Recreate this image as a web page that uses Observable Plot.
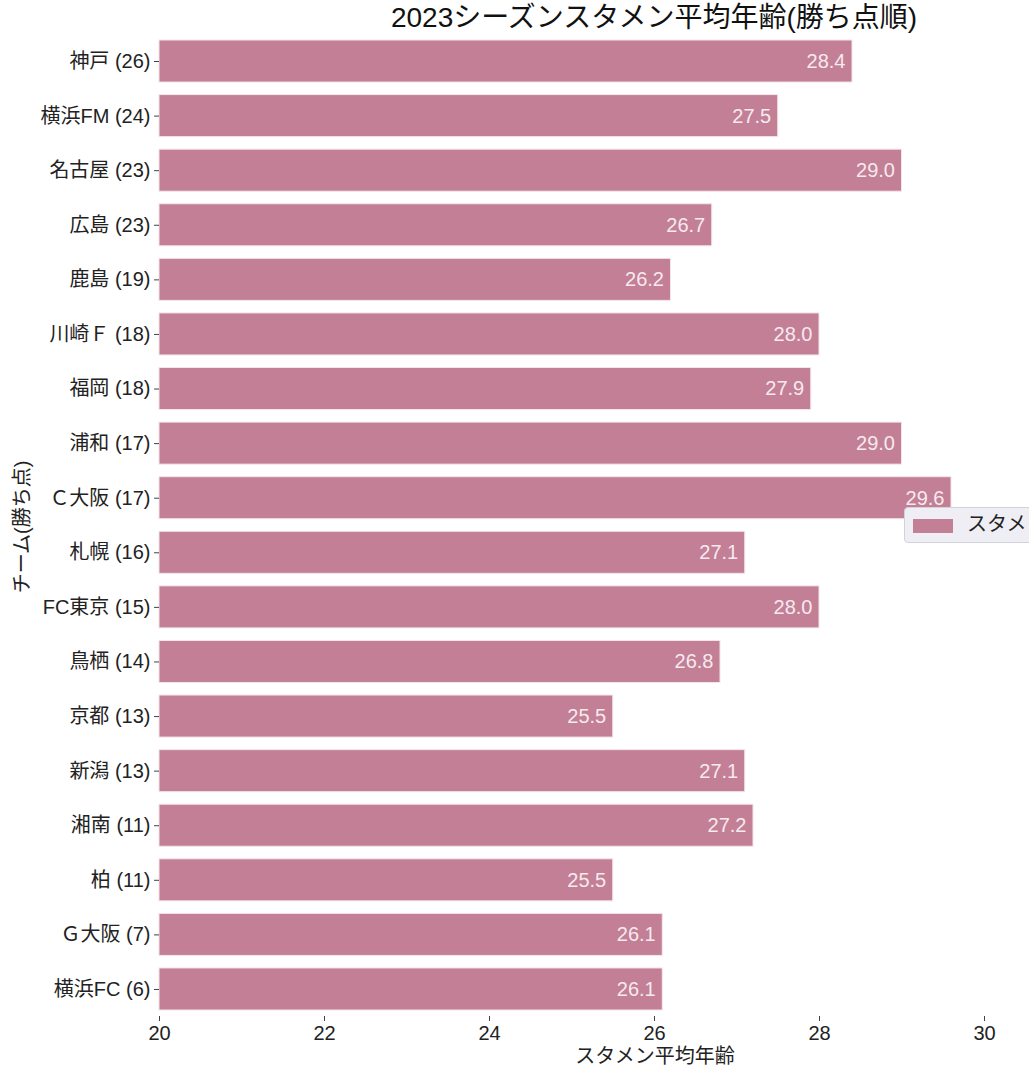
<!DOCTYPE html>
<html>
<head>
<meta charset="utf-8">
<script src="https://cdn.jsdelivr.net/npm/d3@7"></script>
<script src="https://cdn.jsdelivr.net/npm/@observablehq/plot@0.6"></script>
<style>
  html, body { margin: 0; padding: 0; background: #fff; overflow: hidden; }
  body { width: 1029px; height: 1074px; position: relative; font-family: "Liberation Sans", "Noto Sans CJK JP", sans-serif; }
  #title { position: absolute; left: 0; width: 1308px; top: 1px; text-align: center; font-size: 28px; color: #111; line-height: 34px; white-space: nowrap; }
  #xlabel { position: absolute; left: 0; width: 1310px; top: 1043px; text-align: center; font-size: 20px; line-height: 26px; color: #222; white-space: nowrap; }
  #ylabel { position: absolute; left: 20px; top: 527px; transform: translate(-50%, -50%) rotate(-90deg); font-size: 20px; color: #222; white-space: nowrap; }
  #legend { position: absolute; left: 904px; top: 507px; width: 220px; height: 36px; background: #eeeef4; border: 1px solid #d2d2da; border-radius: 4px; box-sizing: border-box; }
  #legend .sw { position: absolute; left: 8px; top: 11px; width: 40px; height: 14px; background: #c27f96; }
  #legend .tx { position: absolute; left: 62px; top: 4px; font-size: 20px; line-height: 24px; color: #222; white-space: nowrap; }
  #chart { position: absolute; left: 0; top: 0; }
</style>
</head>
<body>
<div id="chart"></div>
<div id="title">2023シーズンスタメン平均年齢(勝ち点順)</div>
<div id="xlabel">スタメン平均年齢</div>
<div id="ylabel">チーム(勝ち点)</div>
<div id="legend"><div class="sw"></div><div class="tx">スタメン平均年齢</div></div>
<script>
const teams = ["神戸 (26)", "横浜FM (24)", "名古屋 (23)", "広島 (23)", "鹿島 (19)", "川崎Ｆ (18)", "福岡 (18)", "浦和 (17)", "Ｃ大阪 (17)", "札幌 (16)", "FC東京 (15)", "鳥栖 (14)", "京都 (13)", "新潟 (13)", "湘南 (11)", "柏 (11)", "Ｇ大阪 (7)", "横浜FC (6)"];
const ages = [28.4, 27.5, 29.0, 26.7, 26.2, 28.0, 27.9, 29.0, 29.6, 27.1, 28.0, 26.8, 25.5, 27.1, 27.2, 25.5, 26.1, 26.1];
const xTicks = [20, 22, 24, 26, 28, 30];
const xMin = 20, xMax = 30;

const data = teams.map((t, i) => ({team: t, age: ages[i]}));
const font = '"Liberation Sans", "Noto Sans CJK JP", sans-serif';

const chart = Plot.plot({
  width: 1029,
  height: 1074,
  marginLeft: 159,
  marginRight: 45,
  marginTop: 34,
  marginBottom: 58,
  style: {fontFamily: font, fontSize: "20px", color: "#222", background: "transparent"},
  x: {domain: [xMin, xMax], label: null},
  y: {domain: teams, range: [40, 1010], paddingInner: 0.23, paddingOuter: 0, round: false, label: null},
  marks: [
    Plot.barX(data, {y: "team", x1: xMin, x2: "age", fill: "#c27f96", stroke: "#f3e6ea", strokeWidth: 1}),
    Plot.text(data, {y: "team", x: "age", text: d => d.age.toFixed(1), textAnchor: "end", dx: -7, fill: "#f6eaee", fontSize: 20}),
    Plot.axisX({ticks: xTicks, tickFormat: d => String(d), tickSize: 5, tickPadding: 4, label: null, fontSize: 20, fill: "#222", stroke: "#444"}),
    Plot.axisY({tickSize: 5, tickPadding: 4, label: null, fontSize: 20, fill: "#222", stroke: "#444"})
  ]
});
document.getElementById("chart").appendChild(chart);
</script>
</body>
</html>
